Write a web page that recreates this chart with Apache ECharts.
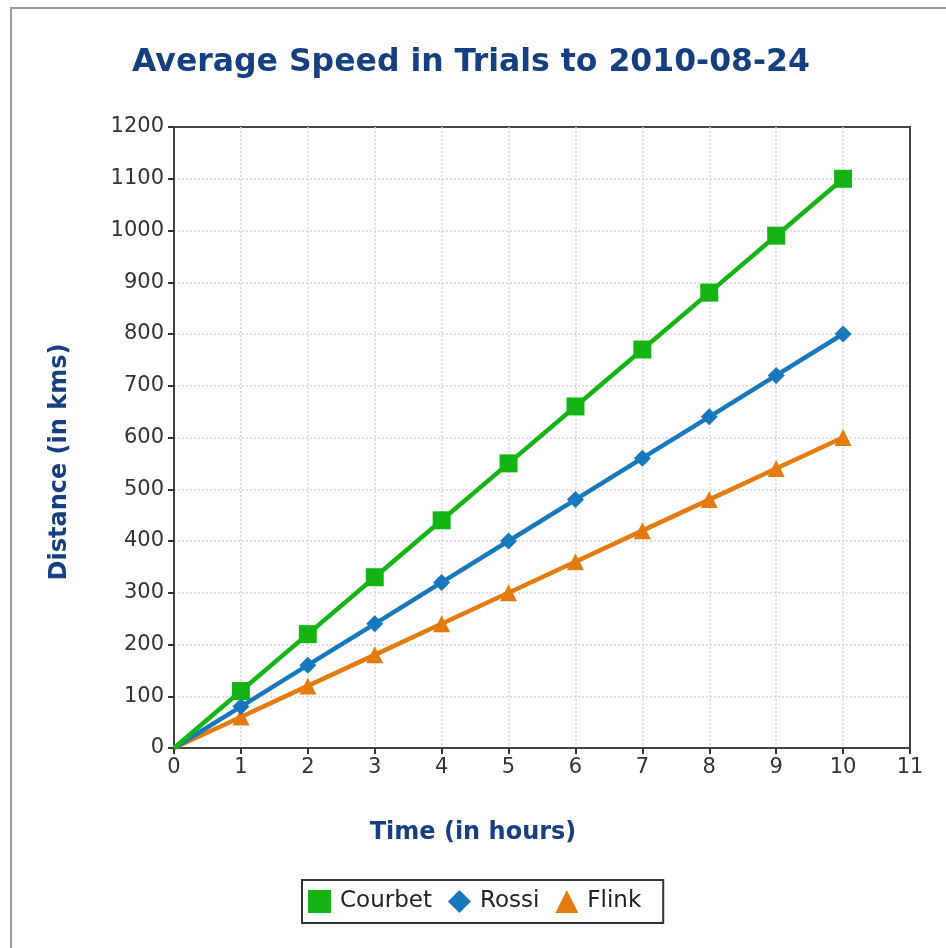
<!DOCTYPE html>
<html>
<head>
<meta charset="utf-8">
<script src="https://cdn.jsdelivr.net/npm/echarts@6/dist/echarts.min.js"></script>
<style>
  html, body { margin: 0; padding: 0; background: #ffffff; }
  #chart { width: 946px; height: 948px; }
</style>
</head>
<body>
<div id="chart"></div>
<script>
// Elapsed time in hours and cumulative distance for each rider
const hours = [0, 1, 2, 3, 4, 5, 6, 7, 8, 9, 10];
const courbet = [0, 110, 220, 330, 440, 550, 660, 770, 880, 990, 1100];
const rossi = [0, 80, 160, 240, 320, 400, 480, 560, 640, 720, 800];
const flink = [0, 60, 120, 180, 240, 300, 360, 420, 480, 540, 600];

const seriesNames = ['Courbet', 'Rossi', 'Flink'];
const seriesColors = ['#14b414', '#1778bd', '#e37b0e'];
const seriesSymbols = ['rect', 'diamond', 'triangle'];
const seriesSizes = [18, 17, 17];
const seriesValues = [courbet, rossi, flink];

const chart = echarts.init(document.getElementById('chart'));

const axisFont = 'Verdana, "DejaVu Sans", sans-serif';
const titleBlue = '#153f7f';

const splitStyle = { color: '#d8d8d8', type: [2, 2], width: 1.5 };

chart.setOption({
  animation: false,
  backgroundColor: '#ffffff',
  title: {
    text: 'Average Speed in Trials to 2010-08-24',
    left: 466,
    textAlign: 'center',
    top: 42,
    textStyle: {
      fontFamily: '"DejaVu Sans", sans-serif',
      fontWeight: 'bold',
      fontSize: 31.5,
      color: titleBlue
    }
  },
  graphic: [{
    type: 'polyline',
    shape: { points: [[11, 948], [11, 8], [946, 8]] },
    style: { stroke: '#9a9a9a', lineWidth: 2, fill: null }
  }, {
    // y axis title, rotated
    type: 'text',
    x: 60,
    y: 462,
    rotation: Math.PI / 2,
    style: {
      text: 'Distance (in kms)',
      fill: titleBlue,
      font: 'bold 24px "DejaVu Sans", sans-serif',
      textAlign: 'center',
      textVerticalAlign: 'middle'
    }
  }, {
    // x axis title
    type: 'text',
    x: 473,
    y: 833,
    style: {
      text: 'Time (in hours)',
      fill: titleBlue,
      font: 'bold 24px "DejaVu Sans", sans-serif',
      textAlign: 'center',
      textVerticalAlign: 'middle'
    }
  }],
  legend: {
    data: seriesNames.map((n, i) => ({ name: n, icon: seriesSymbols[i] })),
    left: 302,
    top: 880,
    padding: [10, 22, 10, 6],
    itemGap: 16,
    itemWidth: 23,
    itemHeight: 23,
    borderColor: '#333333',
    borderWidth: 2,
    borderRadius: 0,
    textStyle: {
      fontFamily: axisFont,
      fontSize: 23,
      color: '#222222',
      padding: [0, 0, 0, 4]
    }
  },
  grid: {
    left: 174,
    right: 36,
    top: 127,
    bottom: 200,
    show: true,
    borderColor: '#444444',
    borderWidth: 2,
    backgroundColor: '#ffffff'
  },
  xAxis: {
    type: 'value',
    min: 0,
    max: 11,
    interval: 1,
    axisLine: { lineStyle: { color: '#444444', width: 2 } },
    axisTick: { show: true, length: 6, lineStyle: { color: '#333333', width: 2 } },
    axisLabel: { fontFamily: axisFont, fontSize: 21, color: '#333333', margin: 9 },
    splitLine: { show: true, showMinLine: false, showMaxLine: false, lineStyle: splitStyle }
  },
  yAxis: {
    type: 'value',
    min: 0,
    max: 1200,
    interval: 100,
    axisLine: { show: true, lineStyle: { color: '#444444', width: 2 } },
    axisTick: { show: true, length: 6, lineStyle: { color: '#333333', width: 2 } },
    axisLabel: {
      fontFamily: axisFont, fontSize: 21, color: '#333333', margin: 10,
      formatter: (v) => String(v)
    },
    splitLine: { show: true, showMinLine: false, showMaxLine: false, lineStyle: splitStyle }
  },
  series: seriesNames.map((name, i) => ({
    name: name,
    type: 'line',
    data: hours.map((h, k) => (k === 0
      ? { value: [h, seriesValues[i][k]], symbol: 'none' }
      : [h, seriesValues[i][k]])),
    symbol: seriesSymbols[i],
    symbolSize: seriesSizes[i],
    showSymbol: true,
    lineStyle: { color: seriesColors[i], width: 4.5 },
    itemStyle: { color: seriesColors[i] },
    z: 10 - i
  }))
});
</script>
</body>
</html>
